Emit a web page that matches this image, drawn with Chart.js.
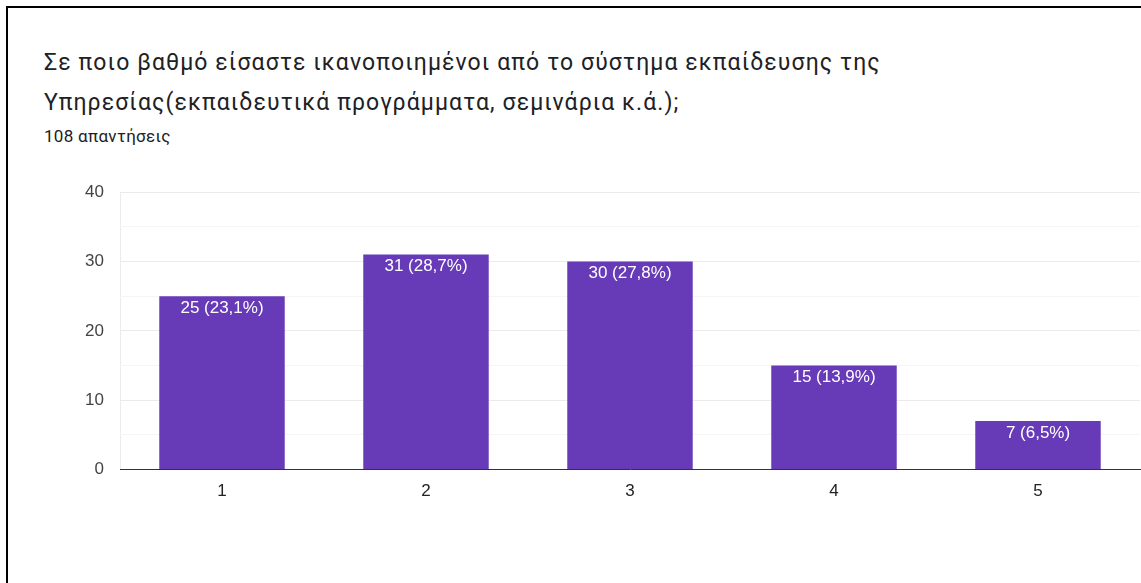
<!DOCTYPE html>
<html>
<head>
<meta charset="utf-8">
<script src="https://cdn.jsdelivr.net/npm/chart.js@4.4.1/dist/chart.umd.min.js"></script>
<style>
  html, body { margin: 0; padding: 0; background: #fff; overflow: hidden; }
  body { width: 1141px; height: 583px; position: relative; }
  .frame { position: absolute; left: 6px; top: 6px; width: 1300px; height: 700px;
           border-left: 2px solid #000; border-top: 2px solid #000; }
  .title { position: absolute; left: 44px; top: 43px; font-family: Roboto, sans-serif;
           font-size: 23px; letter-spacing: 1.1px; line-height: 40px; color: #202124; white-space: nowrap; }
  .sub { position: absolute; left: 44px; top: 126px; font-family: Roboto, sans-serif;
         font-size: 17px; line-height: 20px; letter-spacing: 0.3px; color: #202124; }
  #wrap { position: absolute; left: 0; top: 166px; width: 1141px; height: 417px; }
</style>
</head>
<body>
<div class="frame"></div>
<div class="title">Σε ποιο βαθμό είσαστε ικανοποιημένοι από το σύστημα εκπαίδευσης της<br>Υπηρεσίας(εκπαιδευτικά προγράμματα, σεμινάρια κ.ά.);</div>
<div class="sub">108 απαντήσεις</div>
<div id="wrap"><canvas id="chart"></canvas></div>
<script>
// data
const categories = ['1', '2', '3', '4', '5'];
const counts = [25, 31, 30, 15, 7];
const percents = ['23,1', '28,7', '27,8', '13,9', '6,5'];
const yTicks = [0, 10, 20, 30, 40];

// white labels inside the top of each bar
const barLabels = {
  id: 'barLabels',
  afterDatasetsDraw(chart) {
    const ctx = chart.ctx;
    const meta = chart.getDatasetMeta(0);
    ctx.save();
    ctx.fillStyle = '#fff';
    ctx.font = '17px "Liberation Sans", Arial, sans-serif';
    ctx.textAlign = 'center';
    ctx.textBaseline = 'middle';
    meta.data.forEach((bar, i) => {
      ctx.fillText(counts[i] + ' (' + percents[i] + '%)', bar.x, bar.y + 12);
    });
    ctx.restore();
  }
};

new Chart(document.getElementById('chart'), {
  type: 'bar',
  data: {
    labels: categories,
    datasets: [{ data: counts, backgroundColor: '#673ab7', borderWidth: 0,
                 barPercentage: 0.615, categoryPercentage: 1 }]
  },
  options: {
    responsive: true,
    maintainAspectRatio: false,
    animation: false,
    layout: { padding: { top: 14, right: 1, bottom: 69, left: 0 } },
    plugins: { legend: { display: false }, tooltip: { enabled: false } },
    scales: {
      x: {
        grid: {
          offset: true, drawTicks: false,
          color: c => (c.index === 0 || c.index === categories.length) ? '#ebebeb' : 'rgba(0,0,0,0)'
        },
        border: { color: '#333', width: 1 },
        ticks: { color: '#222', padding: 12, font: { family: '"Liberation Sans", Arial, sans-serif', size: 17 } }
      },
      y: {
        min: 0, max: 40,
        afterFit: s => { s.width = 120; },
        grid: { drawTicks: false, color: c => (c.tick.value % 10 === 0 ? '#ebebeb' : '#f5f5f5') },
        border: { display: false },
        ticks: {
          stepSize: 5, padding: 16, color: '#444',
          font: { family: '"Liberation Sans", Arial, sans-serif', size: 17 },
          callback: v => (yTicks.includes(v) ? v : '')
        }
      }
    }
  },
  plugins: [barLabels]
});
</script>
</body>
</html>
